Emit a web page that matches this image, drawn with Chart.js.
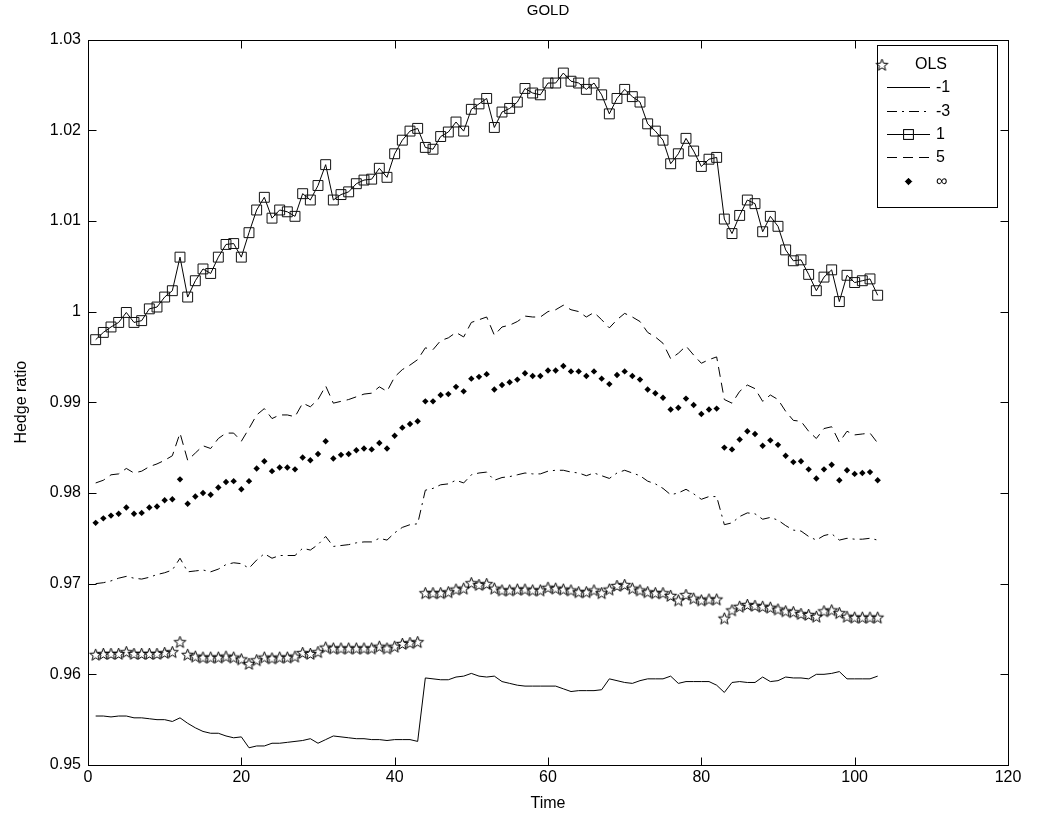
<!DOCTYPE html>
<html>
<head>
<meta charset="utf-8">
<title>GOLD</title>
<script src="https://cdn.jsdelivr.net/npm/chart.js@4.4.0/dist/chart.umd.min.js"></script>
<style>
  html, body { margin: 0; padding: 0; background: #fff; }
  #wrap { width: 1038px; height: 824px; }
</style>
</head>
<body>
<div id="wrap"><canvas id="chart" width="1038" height="824"></canvas></div>
<script>
// x positions: observation number 1..103
const time = Array.from({ length: 103 }, (_, i) => i + 1);

const xTicks = [0, 20, 40, 60, 80, 100, 120];
const yTicks = [0.95, 0.96, 0.97, 0.98, 0.99, 1.00, 1.01, 1.02, 1.03];
const yTickLabels = ['0.95', '0.96', '0.97', '0.98', '0.99', '1', '1.01', '1.02', '1.03'];

// OLS hedge ratio (stars)
const olsValues = [
  0.9622, 0.9623, 0.9623, 0.9623, 0.9625, 0.9623, 0.9623, 0.9623, 0.9623, 0.9624,
  0.9625, 0.9636, 0.9622, 0.9620, 0.9619, 0.9619, 0.9619, 0.9620, 0.9619, 0.9617,
  0.9612, 0.9616, 0.9619, 0.9618, 0.9619, 0.9619, 0.9620, 0.9624, 0.9623, 0.9625,
  0.9630, 0.9629, 0.9629, 0.9629, 0.9629, 0.9629, 0.9629, 0.9631, 0.9629, 0.9631,
  0.9634, 0.9635, 0.9636, 0.9690, 0.9690, 0.9690, 0.9691, 0.9694, 0.9695, 0.9701,
  0.9699, 0.9700, 0.9695, 0.9693, 0.9693, 0.9694, 0.9694, 0.9693, 0.9693, 0.9696,
  0.9695, 0.9694, 0.9693, 0.9691, 0.9691, 0.9693, 0.9690, 0.9694, 0.9698, 0.9699,
  0.9695, 0.9693, 0.9691, 0.9690, 0.9690, 0.9687, 0.9682, 0.9688, 0.9684, 0.9682,
  0.9683, 0.9683, 0.9662, 0.9671, 0.9675, 0.9677, 0.9676, 0.9675, 0.9674, 0.9672,
  0.9670, 0.9669, 0.9667, 0.9666, 0.9664, 0.9670, 0.9671, 0.9668, 0.9664, 0.9663,
  0.9663, 0.9663, 0.9663
];

// risk aversion -1 (solid line)
const minus1Values = [
  0.9554, 0.9554, 0.9553, 0.9554, 0.9554, 0.9552, 0.9552, 0.9551, 0.9550, 0.9550,
  0.9548, 0.9552, 0.9546, 0.9541, 0.9537, 0.9535, 0.9535, 0.9532, 0.9530, 0.9531,
  0.9519, 0.9521, 0.9521, 0.9524, 0.9524, 0.9525, 0.9526, 0.9527, 0.9529, 0.9524,
  0.9528, 0.9532, 0.9531, 0.9530, 0.9529, 0.9529, 0.9528, 0.9528, 0.9527, 0.9528,
  0.9528, 0.9528, 0.9526, 0.9596, 0.9595, 0.9594, 0.9594, 0.9597, 0.9598, 0.9601,
  0.9598, 0.9597, 0.9598, 0.9592, 0.9590, 0.9588, 0.9587, 0.9587, 0.9587, 0.9587,
  0.9587, 0.9584, 0.9581, 0.9582, 0.9582, 0.9582, 0.9583, 0.9595, 0.9593, 0.9591,
  0.9590, 0.9593, 0.9595, 0.9595, 0.9595, 0.9598, 0.9590, 0.9592, 0.9592, 0.9592,
  0.9592, 0.9588, 0.9580, 0.9591, 0.9592, 0.9591, 0.9591, 0.9597, 0.9592, 0.9593,
  0.9597, 0.9596, 0.9596, 0.9595, 0.9600, 0.9600, 0.9601, 0.9603, 0.9595, 0.9595,
  0.9595, 0.9595, 0.9598
];

// risk aversion -3 (dash-dot)
const minus3Values = [
  0.9700, 0.9701, 0.9703, 0.9706, 0.9708, 0.9706, 0.9705, 0.9707, 0.9710, 0.9712,
  0.9715, 0.9728, 0.9713, 0.9714, 0.9715, 0.9713, 0.9716, 0.9721, 0.9723, 0.9722,
  0.9717, 0.9726, 0.9733, 0.9728, 0.9731, 0.9731, 0.9731, 0.9739, 0.9737, 0.9743,
  0.9752, 0.9741, 0.9742, 0.9743, 0.9745, 0.9746, 0.9746, 0.9750, 0.9748, 0.9756,
  0.9762, 0.9765, 0.9766, 0.9803, 0.9805, 0.9809, 0.9810, 0.9814, 0.9811, 0.9820,
  0.9822, 0.9823, 0.9814, 0.9817, 0.9818, 0.9820, 0.9822, 0.9821, 0.9821, 0.9824,
  0.9825, 0.9825, 0.9823, 0.9822, 0.9819, 0.9822, 0.9819, 0.9816, 0.9822, 0.9825,
  0.9822, 0.9819, 0.9813, 0.9810, 0.9805, 0.9798, 0.9800, 0.9804, 0.9799, 0.9793,
  0.9796, 0.9796, 0.9765, 0.9767, 0.9774, 0.9778, 0.9777, 0.9771, 0.9773, 0.9770,
  0.9764, 0.9759, 0.9758, 0.9752, 0.9748, 0.9753, 0.9755, 0.9748, 0.9750, 0.9749,
  0.9749, 0.9750, 0.9748
];

// risk aversion 1 (line with squares)
const plus1Values = [
  0.9969, 0.9977, 0.9983, 0.9988, 0.9999, 0.9988, 0.9990, 1.0003, 1.0005, 1.0016,
  1.0023, 1.0060, 1.0016, 1.0034, 1.0047, 1.0042, 1.0060, 1.0074, 1.0075, 1.0060,
  1.0087, 1.0112, 1.0126, 1.0103, 1.0112, 1.0110, 1.0105, 1.0130, 1.0123, 1.0139,
  1.0162, 1.0123, 1.0129, 1.0132, 1.0141, 1.0145, 1.0146, 1.0158, 1.0148, 1.0174,
  1.0189, 1.0199, 1.0202, 1.0181, 1.0179, 1.0193, 1.0198, 1.0209, 1.0199, 1.0223,
  1.0229, 1.0235, 1.0203, 1.0220, 1.0224, 1.0231, 1.0246, 1.0241, 1.0239, 1.0252,
  1.0252, 1.0263, 1.0254, 1.0252, 1.0245, 1.0252, 1.0239, 1.0218, 1.0235, 1.0245,
  1.0237, 1.0231, 1.0207, 1.0199, 1.0189, 1.0163, 1.0174, 1.0191, 1.0177, 1.0160,
  1.0168, 1.0170, 1.0102, 1.0086, 1.0106, 1.0123, 1.0119, 1.0088, 1.0105, 1.0094,
  1.0068, 1.0056, 1.0057, 1.0041, 1.0023, 1.0038, 1.0046, 1.0011, 1.0040, 1.0032,
  1.0034, 1.0036, 1.0018
];

// risk aversion 5 (dashed)
const plus5Values = [
  0.9811, 0.9814, 0.9820, 0.9821, 0.9827, 0.9822, 0.9824, 0.9829, 0.9832, 0.9836,
  0.9841, 0.9866, 0.9836, 0.9844, 0.9852, 0.9849, 0.9860, 0.9866, 0.9866, 0.9857,
  0.9871, 0.9886, 0.9893, 0.9882, 0.9886, 0.9886, 0.9884, 0.9899, 0.9895, 0.9903,
  0.9918, 0.9899, 0.9901, 0.9903, 0.9906, 0.9909, 0.9910, 0.9917, 0.9912, 0.9928,
  0.9936, 0.9941, 0.9947, 0.9960, 0.9958, 0.9968, 0.9971, 0.9977, 0.9972, 0.9988,
  0.9991, 0.9994, 0.9974, 0.9983, 0.9985, 0.9989, 0.9995, 0.9994, 0.9994, 1.0000,
  1.0002, 1.0007, 1.0002, 1.0000, 0.9994, 0.9999, 0.9991, 0.9982, 0.9991, 0.9998,
  0.9994, 0.9989, 0.9977, 0.9972, 0.9965, 0.9948, 0.9954, 0.9962, 0.9952, 0.9943,
  0.9947, 0.9950, 0.9903, 0.9899, 0.9912, 0.9919, 0.9915, 0.9901, 0.9908, 0.9903,
  0.9890, 0.9880, 0.9879, 0.9868, 0.9860, 0.9871, 0.9873, 0.9856, 0.9868, 0.9864,
  0.9865, 0.9866, 0.9855
];

// risk aversion infinity (dots)
const infValues = [
  0.9767, 0.9772, 0.9775, 0.9777, 0.9784, 0.9777, 0.9778, 0.9784, 0.9785, 0.9792,
  0.9793, 0.9815, 0.9788, 0.9796, 0.9800, 0.9798, 0.9806, 0.9812, 0.9813, 0.9804,
  0.9813, 0.9827, 0.9835, 0.9824, 0.9828, 0.9828, 0.9826, 0.9839, 0.9836, 0.9843,
  0.9857, 0.9838, 0.9842, 0.9843, 0.9847, 0.9849, 0.9848, 0.9855, 0.9849, 0.9863,
  0.9872, 0.9876, 0.9879, 0.9901, 0.9901, 0.9908, 0.9909, 0.9917, 0.9912, 0.9926,
  0.9928, 0.9931, 0.9914, 0.9919, 0.9922, 0.9925, 0.9932, 0.9929, 0.9929, 0.9935,
  0.9935, 0.9940, 0.9934, 0.9934, 0.9929, 0.9934, 0.9926, 0.9920, 0.9930, 0.9934,
  0.9929, 0.9925, 0.9914, 0.9910, 0.9905, 0.9892, 0.9894, 0.9904, 0.9897, 0.9887,
  0.9892, 0.9893, 0.9850, 0.9848, 0.9859, 0.9868, 0.9865, 0.9852, 0.9858, 0.9853,
  0.9841, 0.9834, 0.9835, 0.9826, 0.9816, 0.9826, 0.9831, 0.9814, 0.9825, 0.9821,
  0.9822, 0.9823, 0.9814
];

const FONT = 'Liberation Sans, Arial, sans-serif';

// MATLAB style pentagram marker (outline only)
function makeStar(r) {
  const s = Math.ceil(r * 2 + 4);
  const c = document.createElement('canvas');
  c.width = s; c.height = s;
  const g = c.getContext('2d');
  g.beginPath();
  for (let k = 0; k < 10; k++) {
    const rad = k % 2 === 0 ? r : r * 0.42;
    const a = -Math.PI / 2 + k * Math.PI / 5;
    const px = s / 2 + rad * Math.cos(a), py = s / 2 + 0.8 + rad * Math.sin(a);
    if (k) g.lineTo(px, py); else g.moveTo(px, py);
  }
  g.closePath();
  g.strokeStyle = '#000';
  g.lineWidth = 1;
  g.stroke();
  return c;
}
const starMarker = makeStar(6.2);

const datasets = [
  { label: 'OLS', data: olsValues, showLine: false, borderColor: '#000', pointStyle: starMarker, pointRadius: 6 },
  { label: '-1', data: minus1Values, borderColor: '#000', borderWidth: 1, pointRadius: 0 },
  { label: '-3', data: minus3Values, borderColor: '#000', borderWidth: 1, borderDash: [10, 5, 2, 5], pointRadius: 0 },
  { label: '1', data: plus1Values, borderColor: '#000', borderWidth: 1, pointStyle: 'rect', pointRadius: 7,
    pointBorderWidth: 1, pointBorderColor: '#111', pointBackgroundColor: 'rgba(0,0,0,0)' },
  { label: '5', data: plus5Values, borderColor: '#000', borderWidth: 1, borderDash: [10, 6], pointRadius: 0 },
  { label: '\u221e', data: infValues, showLine: false, borderColor: '#000', pointStyle: 'rectRot', pointRadius: 3.2,
    pointBorderWidth: 0, pointBackgroundColor: '#000' }
];
datasets.forEach(d => { d.tension = 0; d.fill = false; d.backgroundColor = d.pointBackgroundColor || 'rgba(0,0,0,0)'; });

// box around the axes plus inward tick marks on all four sides
const framePlugin = {
  id: 'frame',
  afterDatasetsDraw(chart) {
    const { ctx, chartArea: a, scales: { x, y } } = chart;
    const L = Math.round(a.left) + 0.5, R = Math.round(a.right) + 0.5;
    const T = Math.round(a.top) + 0.5, B = Math.round(a.bottom) + 0.5;
    const len = 8;
    ctx.save();
    ctx.strokeStyle = '#000';
    ctx.lineWidth = 1;
    ctx.setLineDash([]);
    ctx.strokeRect(L, T, R - L, B - T);
    ctx.beginPath();
    xTicks.forEach(v => {
      const px = Math.round(x.getPixelForValue(v)) + 0.5;
      ctx.moveTo(px, B); ctx.lineTo(px, B - len);
      ctx.moveTo(px, T); ctx.lineTo(px, T + len);
    });
    yTicks.forEach(v => {
      const py = Math.round(y.getPixelForValue(v)) + 0.5;
      ctx.moveTo(L, py); ctx.lineTo(L + len, py);
      ctx.moveTo(R, py); ctx.lineTo(R - len, py);
    });
    ctx.stroke();
    ctx.restore();
  }
};

// MATLAB like legend box in the upper right corner
const legendBox = { left: 877, top: 45, width: 120, height: 162, rowGap: 23.3, firstRow: 64,
  lineFrom: 887, lineTo: 930, textX: 936, starX: 882, starTextX: 915 };
const matlabLegend = {
  id: 'matlabLegend',
  afterDraw(chart) {
    const { ctx } = chart;
    const b = legendBox;
    ctx.save();
    ctx.fillStyle = '#fff';
    ctx.fillRect(b.left, b.top, b.width, b.height);
    ctx.strokeStyle = '#000';
    ctx.lineWidth = 1;
    ctx.strokeRect(b.left + 0.5, b.top + 0.5, b.width, b.height);
    chart.data.datasets.forEach((ds, i) => {
      const yy = Math.round(b.firstRow + i * b.rowGap) + 0.5;
      const isStar = ds.pointStyle === starMarker;
      const mid = isStar ? b.starX : (b.lineFrom + b.lineTo) / 2;
      if (ds.showLine !== false) {
        ctx.beginPath();
        ctx.setLineDash(ds.borderDash || []);
        ctx.strokeStyle = '#000';
        ctx.lineWidth = 1;
        ctx.moveTo(b.lineFrom, yy);
        ctx.lineTo(b.lineTo, yy);
        ctx.stroke();
        ctx.setLineDash([]);
      }
      if (ds.pointRadius > 0) {
        ctx.strokeStyle = ds.pointBorderColor || '#000';
        ctx.fillStyle = ds.pointBackgroundColor || 'rgba(0,0,0,0)';
        ctx.lineWidth = ds.pointBorderWidth === undefined ? 1 : ds.pointBorderWidth;
        Chart.helpers.drawPoint(ctx, { pointStyle: ds.pointStyle, radius: ds.pointRadius, rotation: 0,
          borderWidth: ctx.lineWidth }, mid, yy);
        if (!isStar) {
          ctx.fill();
          if (ds.pointBorderWidth !== 0) ctx.stroke();
        }
      }
      ctx.fillStyle = '#000';
      ctx.font = '16px ' + FONT;
      ctx.textBaseline = 'middle';
      ctx.textAlign = 'left';
      ctx.fillText(ds.label, isStar ? b.starTextX : b.textX, yy);
    });
    ctx.restore();
  }
};

new Chart(document.getElementById('chart'), {
  type: 'line',
  data: { labels: time, datasets },
  options: {
    responsive: false,
    animation: false,
    events: [],
    layout: { padding: { left: 0, right: 30, top: 0, bottom: 0 } },
    plugins: {
      legend: { display: false },
      tooltip: { enabled: false },
      title: {
        display: true, text: 'GOLD', color: '#000', fullSize: false,
        font: { family: FONT, size: 15, weight: 'normal' },
        padding: { top: 2, bottom: 19.5 }
      }
    },
    scales: {
      x: {
        type: 'linear', min: 0, max: 120,
        grid: { display: false, drawTicks: false },
        border: { display: false },
        afterBuildTicks: s => { s.ticks = xTicks.map(v => ({ value: v })); },
        afterFit: s => { s.height = 59; },
        ticks: { color: '#000', padding: 3, font: { family: FONT, size: 16 }, maxRotation: 0 },
        title: { display: true, text: 'Time', color: '#000', font: { family: FONT, size: 16 }, padding: { top: 0, bottom: 11 } }
      },
      y: {
        type: 'linear', min: 0.95, max: 1.03,
        grid: { display: false, drawTicks: false },
        border: { display: false },
        afterBuildTicks: s => { s.ticks = yTicks.map(v => ({ value: v })); },
        afterFit: s => { s.width = 88; },
        ticks: { color: '#000', padding: 7, font: { family: FONT, size: 16 },
          callback: (v, i) => yTickLabels[i] },
        title: { display: true, text: 'Hedge ratio', color: '#000', font: { family: FONT, size: 16 }, padding: { top: 12, bottom: 0 } }
      }
    }
  },
  plugins: [framePlugin, matlabLegend]
});
</script>
</body>
</html>
